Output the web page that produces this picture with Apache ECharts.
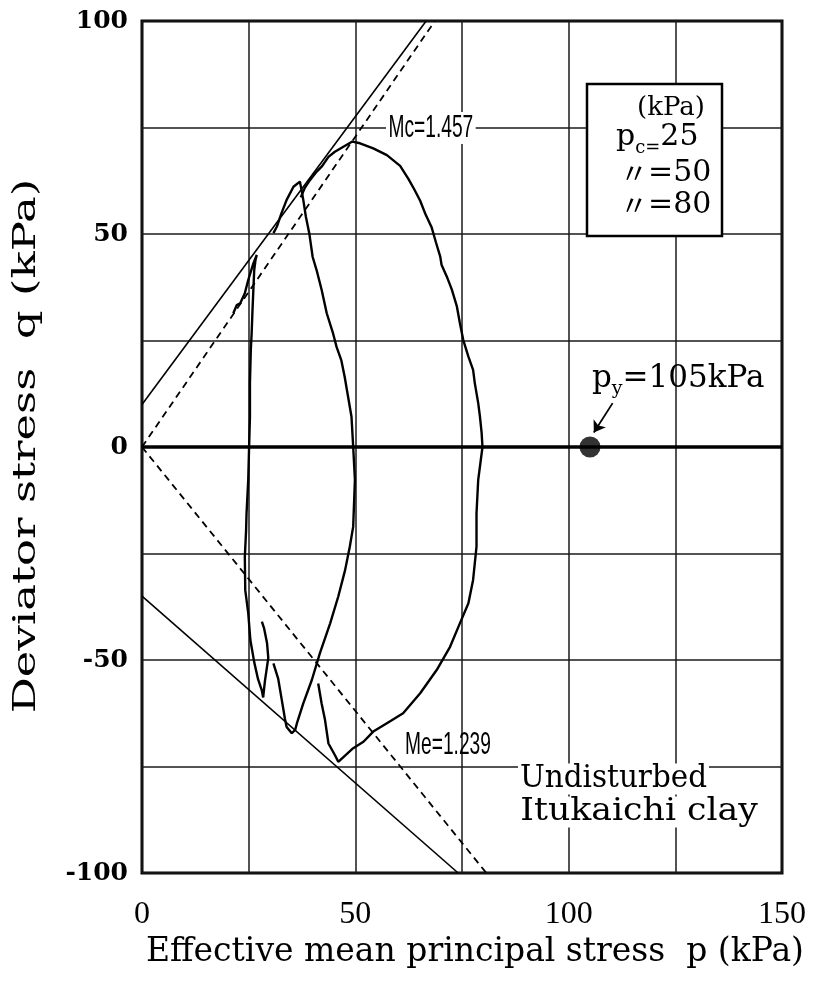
<!DOCTYPE html>
<html>
<head>
<meta charset="utf-8">
<script src="https://cdn.jsdelivr.net/npm/echarts/dist/echarts.min.js"></script>
<style>
  html, body { margin: 0; padding: 0; background: #fff; }
  #chart { width: 820px; height: 982px; }
</style>
</head>
<body>
<div id="chart"></div>
<script>
// Axis tick labels
const pTickLabels = [0, 50, 100, 150];
const qTickLabels = [-100, -50, 0, 50, 100];

// Critical state stress ratios (compression / extension)
const MC = 1.457;
const ME = 1.239;

// Straight failure envelopes, [p, q] in kPa
const upperEnvelope = [[0, 10], [66.6, 100]];
const lowerEnvelope = [[0, -35], [74.1, -100]];

// Undrained stress paths, [p, q] in kPa
const pc25Compression = [[25.1, 0], [25.3, 7.1], [25.3, 15.0], [25.5, 22.8], [25.7, 26.7], [25.9, 32.2],
  [26.1, 36.9], [26.3, 41.5], [26.6, 43.9], [26.9, 45.1], [26.1, 43.1], [24.9, 39.2], [24.1, 36.1],
  [23.0, 33.7], [22.2, 33.3], [21.4, 31.4]];
const pc25Extension = [[25.1, 0], [24.9, -7.7], [24.5, -15.6], [24.4, -19.5], [24.1, -25.8], [24.2, -33.6],
  [24.9, -39.0], [25.4, -45.3], [26.3, -50.5], [27.2, -54.5], [28.1, -57.2], [28.4, -58.8], [28.8, -55.0],
  [29.6, -49.5], [29.3, -46.0], [28.6, -42.5], [28.1, -41.0]];

const pc50Compression = [[49.5, 0], [49.1, 7.1], [48.3, 11.8], [47.5, 16.5], [46.7, 20.4], [45.6, 23.5],
  [44.8, 26.6], [43.3, 31.4], [42.1, 36.9], [40.9, 41.6], [40.0, 44.6], [39.2, 50.2], [38.4, 54.1],
  [37.8, 58.0], [37.4, 60.3], [37.0, 62.3], [35.5, 61.1], [33.9, 58.0], [32.7, 54.9], [31.6, 51.7],
  [30.8, 50.2]];
const pc50Extension = [[49.5, 0], [49.9, -7.7], [49.5, -18.7], [48.7, -23.4], [47.6, -28.9], [46.0, -35.1],
  [44.1, -41.4], [41.7, -48.4], [39.8, -54.7], [37.8, -60.2], [36.3, -64.9], [35.9, -66.4], [35.1, -67.2],
  [33.9, -65.7], [33.5, -63.8], [32.7, -59.0], [31.9, -54.3], [30.8, -50.8]];

const pc80Compression = [[79.8, 0], [79.6, 3.3], [79.2, 7.2], [78.8, 10.3], [78.0, 15.0], [77.6, 18.1],
  [76.5, 21.2], [75.3, 25.1], [74.5, 29.1], [73.8, 33.0], [72.6, 37.0], [71.4, 40.1], [70.2, 42.8],
  [69.9, 44.7], [68.9, 48.0], [67.9, 51.5], [66.5, 54.5], [65.2, 57.8], [63.8, 60.5], [62.4, 63.0],
  [60.5, 66.0], [57.4, 68.5], [54.2, 70.1], [51.1, 71.3], [49.3, 71.7], [47.2, 70.5], [45.2, 69.3],
  [43.7, 68.1], [42.1, 65.8], [40.9, 64.6], [39.4, 62.7], [38.2, 60.9], [37.2, 58.6]];
const pc80Extension = [[79.8, 0], [78.8, -7.7], [78.4, -15.6], [78.4, -23.4], [77.6, -31.2], [76.5, -36.7],
  [74.5, -41.4], [72.2, -46.9], [69.1, -52.3], [65.2, -57.8], [61.2, -62.5], [57.3, -64.9], [54.2, -66.8],
  [51.9, -69.2], [49.5, -70.7], [46.0, -73.9], [45.2, -72.3], [43.7, -69.6], [42.9, -64.1], [42.1, -60.2],
  [41.3, -55.5]];

// Yield point on the p axis
const yieldPoint = [[105, 0]];
// Pointer towards the yield point: [start, tip]
const yieldArrow = [[110.3, 10.3], [105.9, 3.4]];

const SERIF = '"DejaVu Serif", "Liberation Serif", serif';
const TIMES = '"Liberation Serif", "DejaVu Serif", serif';
const SANS = '"Liberation Sans", Arial, sans-serif';
const CJK = '"Noto Sans CJK JP", sans-serif';

const chart = echarts.init(document.getElementById('chart'), null, { renderer: 'canvas' });

function pathSeries(data) {
  return {
    type: 'line', data: data, symbol: 'none', silent: true, z: 4,
    lineStyle: { color: '#000', width: 2.4 }
  };
}

function tickFormatter(list) {
  return function (v) { return list.indexOf(v) >= 0 ? String(v) : ''; };
}

chart.setOption({
  animation: false,
  backgroundColor: '#fff',
  grid: {
    left: 142, top: 21, width: 640, height: 852,
    show: true, borderColor: '#000', borderWidth: 3, backgroundColor: 'transparent',
    outerBoundsMode: 'none'
  },
  xAxis: {
    type: 'value', min: 0, max: 150, interval: 25,
    name: 'Effective mean principal stress  p (kPa)',
    nameLocation: 'middle', nameGap: 58,
    nameTextStyle: { fontFamily: SERIF, fontSize: 33, color: '#000', padding: [0, 0, 0, 26] },
    axisLine: { show: false },
    axisTick: { show: false },
    axisLabel: { formatter: tickFormatter(pTickLabels), margin: 26, fontFamily: TIMES, fontSize: 32, color: '#000' },
    splitLine: { show: true, lineStyle: { color: '#1a1a1a', width: 1.5 } }
  },
  yAxis: {
    type: 'value', min: -100, max: 100, interval: 25,
    axisLine: { show: false },
    axisTick: { show: false },
    axisLabel: {
      formatter: tickFormatter(qTickLabels), margin: 14,
      fontFamily: SERIF, fontWeight: 'bold', fontSize: 25, color: '#000'
    },
    splitLine: { show: true, lineStyle: { color: '#1a1a1a', width: 1.5 } }
  },
  series: [
    // q = 0 axis, drawn heavier than the grid
    {
      type: 'line', data: [], silent: true,
      markLine: {
        silent: true, symbol: ['none', 'none'], label: { show: false },
        lineStyle: { color: '#000', width: 3.5, type: 'solid' },
        data: [{ yAxis: 0 }]
      }
    },
    // Critical state lines through the origin
    {
      type: 'line', data: [[0, 0], [100 / MC, 100]], symbol: 'none', silent: true, z: 3,
      lineStyle: { color: '#000', width: 1.8, type: [7, 5] }
    },
    {
      type: 'line', data: [[0, 0], [100 / ME, -100]], symbol: 'none', silent: true, z: 3,
      lineStyle: { color: '#000', width: 1.8, type: [7, 5] }
    },
    // Failure envelopes
    {
      type: 'line', data: upperEnvelope, symbol: 'none', silent: true, z: 3,
      lineStyle: { color: '#000', width: 1.6 }
    },
    {
      type: 'line', data: lowerEnvelope, symbol: 'none', silent: true, z: 3,
      lineStyle: { color: '#000', width: 1.6 }
    },
    pathSeries(pc25Compression), pathSeries(pc25Extension),
    pathSeries(pc50Compression), pathSeries(pc50Extension),
    pathSeries(pc80Compression), pathSeries(pc80Extension),
    // Yield point with its pointer
    {
      type: 'scatter', data: yieldPoint, symbol: 'circle', symbolSize: 21, silent: true, z: 6,
      itemStyle: { color: '#000' },
      markLine: {
        silent: true, symbol: ['none', 'arrow'], symbolSize: 11, label: { show: false },
        lineStyle: { color: '#000', width: 1.8, type: 'solid' },
        data: [[{ coord: yieldArrow[0] }, { coord: yieldArrow[1] }]]
      }
    }
  ],
  graphic: [
    // q axis title, set vertically
    {
      type: 'text', z: 101, x: 27, y: 446, rotation: Math.PI / 2, scaleX: 1.45,
      style: {
        text: 'Deviator stress  q (kPa)', font: '31px ' + SERIF, fill: '#000',
        textAlign: 'center', textVerticalAlign: 'middle'
      }
    },
    // Test conditions box
    {
      type: 'rect', z: 100,
      shape: { x: 587, y: 84, width: 135, height: 152 },
      style: { fill: '#fff', stroke: '#000', lineWidth: 2.5 }
    },
    {
      type: 'text', z: 101, x: 637, y: 108,
      style: { text: '(kPa)', font: '26px ' + SERIF, fill: '#000', textVerticalAlign: 'middle' }
    },
    {
      type: 'text', z: 101, x: 616, y: 140,
      style: {
        text: '{a|p}{s|c=}{a|25}', fill: '#000', textVerticalAlign: 'middle',
        rich: {
          a: { fontFamily: SERIF, fontSize: 30, verticalAlign: 'bottom', padding: [0, 0, 5, 0] },
          s: { fontFamily: SERIF, fontSize: 18, verticalAlign: 'bottom' }
        }
      }
    },
    {
      type: 'text', z: 101, x: 620, y: 173,
      style: {
        text: '{m|〃}{a|=50}', fill: '#000', textVerticalAlign: 'middle',
        rich: { m: { fontFamily: CJK, fontSize: 28 }, a: { fontFamily: SERIF, fontSize: 30 } }
      }
    },
    {
      type: 'text', z: 101, x: 620, y: 205,
      style: {
        text: '{m|〃}{a|=80}', fill: '#000', textVerticalAlign: 'middle',
        rich: { m: { fontFamily: CJK, fontSize: 28 }, a: { fontFamily: SERIF, fontSize: 30 } }
      }
    },
    // Stress ratio labels
    {
      type: 'text', z: 101, x: 386, y: 128, scaleX: 0.6,
      style: {
        text: 'Mc=1.457', font: '32px ' + SANS, fill: '#000', textVerticalAlign: 'middle',
        backgroundColor: '#fff', padding: [0, 4]
      }
    },
    {
      type: 'text', z: 101, x: 405, y: 745, scaleX: 0.6,
      style: { text: 'Me=1.239', font: '32px ' + SANS, fill: '#000', textVerticalAlign: 'middle' }
    },
    // Yield point label
    {
      type: 'text', z: 101, x: 592, y: 381,
      style: {
        text: '{a|p}{s|y}{a|=105kPa}', fill: '#000', textVerticalAlign: 'middle',
        rich: {
          a: { fontFamily: SERIF, fontSize: 31, verticalAlign: 'bottom', padding: [0, 0, 5, 0] },
          s: { fontFamily: SERIF, fontSize: 19, verticalAlign: 'bottom' }
        }
      }
    },
    // Sample description
    {
      type: 'text', z: 101, x: 518, y: 779, scaleX: 0.95,
      style: {
        text: 'Undisturbed', font: '31px ' + SERIF, fill: '#000', textVerticalAlign: 'middle',
        backgroundColor: '#fff', padding: [0, 2]
      }
    },
    {
      type: 'text', z: 101, x: 518, y: 812, scaleX: 1.12,
      style: {
        text: 'Itukaichi clay', font: '31px ' + SERIF, fill: '#000', textVerticalAlign: 'middle',
        backgroundColor: '#fff', padding: [0, 2]
      }
    }
  ]
});
</script>
</body>
</html>
